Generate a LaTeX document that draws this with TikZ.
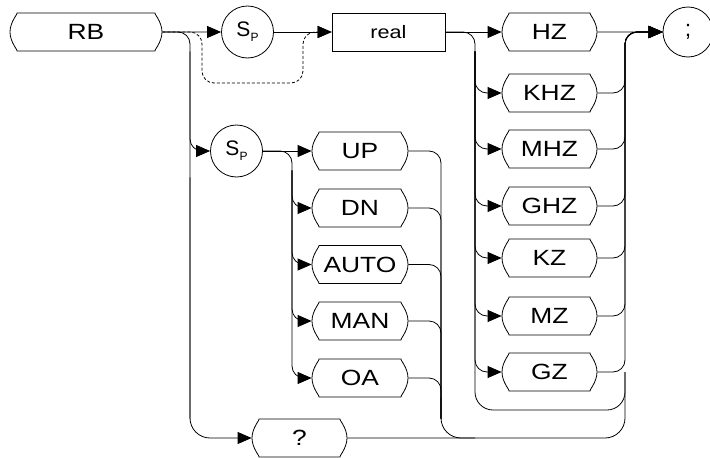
\documentclass[tikz,border=0pt]{standalone}
\usepackage{fontspec}
\setmainfont{Liberation Sans}
\usetikzlibrary{arrows.meta,shapes.misc}

\newcommand{\wide}[1]{\scalebox{1.2}[1]{#1}}
\newcommand{\spsym}{{\fontsize{21}{21}\selectfont S}\raisebox{-5pt}{\fontsize{12}{12}\selectfont P}}

\begin{document}
\begin{tikzpicture}[x=1pt, y=-1pt, line width=0.8pt, rounded corners=12pt,
  pill/.style={draw, rounded rectangle, minimum width=95pt, minimum height=38pt, inner sep=0pt, font=\fontsize{22}{22}\selectfont},
  ring/.style={draw, circle, minimum size=52pt, inner sep=0pt},
  arr/.style={-{Triangle[length=14pt,width=12pt]}}]
\useasboundingbox (0,0) rectangle (710,458);
% command and first branch
\node[pill, minimum width=152pt] (rb) at (86,32) {\wide{RB}};
\node[ring] (s1) at (247.5,32) {\spsym};
\node[draw, sharp corners, minimum width=113pt, minimum height=38pt, inner sep=0pt, font=\fontsize{18}{18}\selectfont] (real) at (388.5,32) {\wide{real}};
\node[ring, minimum size=50pt] (semi) at (688,32) {\fontsize{23}{23}\selectfont ;};
% units
\node[pill] (hz) at (549.5,32) {\wide{HZ}};
\node[pill] (khz) at (549.5,93) {\wide{KHZ}};
\node[pill] (mhz) at (549.5,149) {\wide{MHZ}};
\node[pill] (ghz) at (549.5,206) {\wide{GHZ}};
\node[pill] (kz) at (549.5,258) {\wide{KZ}};
\node[pill] (mz) at (549.5,316) {\wide{MZ}};
\node[pill] (gz) at (549.5,372) {\wide{GZ}};
% second branch
\node[ring] (s2) at (236.5,151) {\spsym};
\node[pill, minimum width=96pt] (up) at (360,151) {\wide{UP}};
\node[pill, minimum width=96pt] (dn) at (360,208) {\wide{DN}};
\node[pill, minimum width=96pt] (auto) at (360,264.5) {\wide{AUTO}};
\node[pill, minimum width=96pt] (man) at (360,321) {\wide{MAN}};
\node[pill, minimum width=96pt] (oa) at (360,378) {\wide{OA}};
\node[pill] (q) at (299.5,438) {\wide{?}};

\coordinate (vl) at (190,0);
\coordinate (ml) at (292,0);
\coordinate (mr) at (441,0);
\coordinate (ul) at (475,0);
\coordinate (ur) at (625,0);
\coordinate (bot) at (0,410);
\coordinate (dl) at (202,83);
\coordinate (dr) at (303,83);

\draw[arr] (rb) -- (s1);
\draw[arr] (s1) -- (real);
\draw[arr, dash pattern=on 3pt off 2pt] (rb.east) -| (dl) -- (dr) |- (real.west);
\draw (rb) -| (vl |- q.north);
\draw[arr, rounded corners=20pt] (vl |- s2.south) |- (q);
\draw[arr] (vl |- rb.south) |- (s2);

\draw[arr] (real) -- (hz);
\draw[arr] (hz) -- (semi);
\draw (real) -| (ul |- gz);
\draw[rounded corners=18pt] (ul |- gz) |- (ur |- bot) -- (ur |- gz);
\foreach \u in {khz,mhz,ghz,kz,mz,gz} {
  \draw[arr] (ul |- hz.south) |- (\u);
  \draw[arr] (\u) -| (ur |- semi) -- (semi);
}

\draw[arr] (s2) -- (up);
\draw[arr] (s2) -| (ml |- oa) -- (oa);
\foreach \o in {dn,auto,man}
  \draw[arr] (ml |- up.south) |- (\o);
\foreach \o in {up,dn,auto,man,oa}
  \draw (\o) -| (mr |- q.north);
\draw[rounded corners=20pt] (mr |- oa.south) |- (ul |- q);
\draw[rounded corners=20pt] (q) -| (ur |- gz);
\end{tikzpicture}
\end{document}
